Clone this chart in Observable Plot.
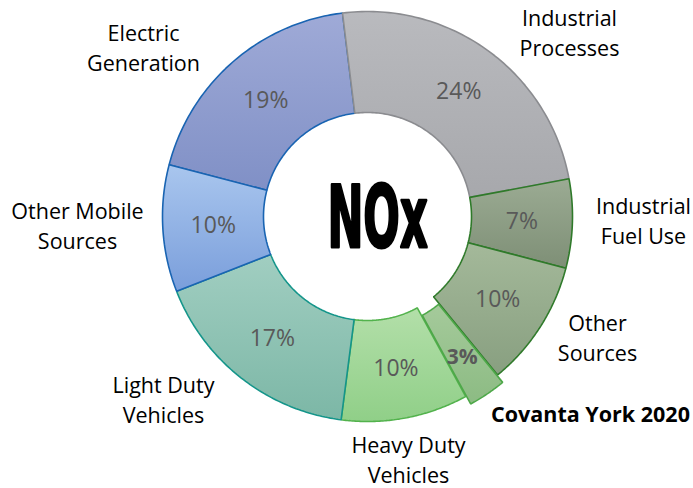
<!DOCTYPE html>
<html><head><meta charset="utf-8">
<script src="https://cdn.jsdelivr.net/npm/d3@7"></script>
<script src="https://cdn.jsdelivr.net/npm/@observablehq/plot@0.6"></script>
<style>body{margin:0;background:#fff;}</style>
</head><body><div id="chart"></div>
<script>
// ---- data (clockwise from 12 o'clock) ----
const categories = ["Industrial Processes","Industrial Fuel Use","Other Sources","Covanta York 2020","Heavy Duty Vehicles","Light Duty Vehicles","Other Mobile Sources","Electric Generation"];
const values = [24, 7, 10, 3, 10, 17, 10, 19];
const pctLabels = ["24%","7%","10%","3%","10%","17%","10%","19%"];
const nameLabels = ["Industrial\nProcesses","Industrial\nFuel Use","Other\nSources","Covanta York 2020","Heavy Duty\nVehicles","Light Duty\nVehicles","Other Mobile\nSources","Electric\nGeneration"];
const highlighted = "Covanta York 2020";
const centerText = "NOx";

// ---- styles / layout ----
const fillTop    = ["#b9babe","#9bab93","#a4b99a","#a5ca9b","#b3dfa9","#a1cec1","#a9c6ee","#9faad7"];
const fillBottom = ["#a7a8ac","#7e8f76","#889f80","#8cbb83","#90cf88","#7cb7a6","#7a9edb","#8090c6"];
const strokes    = ["#8b8c90","#2f7a2a","#2f7a2a","#4ea849","#52b24c","#14958a","#1964b2","#1964b2"];
const drawOrder  = [7,0,1,2,4,5,6,3];
// label block centres, px offset from donut centre
const labelPos = [[202,-185],[276,3],[230,120],[223,199],[41,242],[-204,182],[-290,8],[-224,-170]];
const W = 693, H = 488, CX = 367, CY = 216, R_OUT = 205, R_IN = 104, START = -7, EXPLODE = 9;

// ---- geometry from data ----
const total = d3.sum(values);
let acc = START;
const slices = categories.map((c, i) => {
  const a0 = acc, a1 = acc + values[i] / total * 360; acc = a1;
  const mid = (a0 + a1) / 2 * Math.PI / 180;
  const e = c === highlighted ? EXPLODE : 0;
  const ox = e * Math.sin(mid), oy = -e * Math.cos(mid);
  const pts = [];
  const N = 80;
  for (let k = 0; k <= N; k++) { const a = (a0 + (a1 - a0) * k / N) * Math.PI / 180; pts.push({x: ox + R_OUT * Math.sin(a), y: oy - R_OUT * Math.cos(a)}); }
  for (let k = N; k >= 0; k--) { const a = (a0 + (a1 - a0) * k / N) * Math.PI / 180; pts.push({x: ox + R_IN * Math.sin(a), y: oy - R_IN * Math.cos(a)}); }
  const rm = (R_IN + R_OUT) / 2 + (e ? 6 : 0);
  return {category: c, i, pts, lx: ox + rm * Math.sin(mid), ly: oy - rm * Math.cos(mid), pct: pctLabels[i], bold: c === highlighted};
});

const defs = () => {
  const g = d3.create("svg:defs");
  categories.forEach((c, i) => {
    const lg = g.append("linearGradient").attr("id", "grad" + i).attr("x1", 0).attr("y1", 0).attr("x2", 0).attr("y2", 1);
    lg.append("stop").attr("offset", "0%").attr("stop-color", fillTop[i]);
    lg.append("stop").attr("offset", "100%").attr("stop-color", fillBottom[i]);
  });
  return g.node();
};

const sliceMarks = drawOrder.map(i => Plot.line(slices[i].pts, {
  x: "x", y: "y", curve: "linear-closed",
  fill: `url(#grad${i})`, stroke: strokes[i], strokeWidth: 1.6, strokeLinejoin: "miter"
}));

const names = categories.map((c, i) => ({text: nameLabels[i], x: labelPos[i][0], y: labelPos[i][1], bold: c === highlighted}));

const chart = Plot.plot({
  width: W, height: H, margin: 0,
  x: {domain: [-CX, W - CX], range: [0, W], axis: null},
  y: {domain: [-CY, H - CY], range: [0, H], axis: null},
  style: {background: "#fff"},
  marks: [
    defs,
    ...sliceMarks,
    Plot.text(slices.filter(d => !d.bold), {x: "lx", y: "ly", text: "pct", fill: "#595959", fontSize: 23, fontFamily: "Open Sans"}),
    Plot.text(slices.filter(d => d.bold), {x: "lx", y: "ly", text: "pct", fill: "#595959", fontSize: 21, fontWeight: "bold", fontFamily: "Open Sans"}),
    Plot.text(names.filter(d => !d.bold), {x: "x", y: "y", text: "text", fill: "#000", fontSize: 21.5, lineHeight: 1.38, fontFamily: "Open Sans"}),
    Plot.text(names.filter(d => d.bold), {x: "x", y: "y", text: "text", fill: "#000", fontSize: 21.5, fontWeight: "bold", fontFamily: "Open Sans"}),
    Plot.text([centerText], {x: () => 10, y: () => 3, text: d => d, fill: "#000", stroke: "#000", strokeWidth: 3, fontSize: 86, fontWeight: "bold", fontFamily: "DejaVu Sans"})
  ]
});
document.getElementById("chart").appendChild(chart);

// condense the big centre label horizontally
const t = Array.from(chart.querySelectorAll("text")).find(n => n.textContent === centerText);
if (t) {
  const X = +(t.getAttribute("x") || 0);
  const prev = t.getAttribute("transform") || "";
  t.setAttribute("transform", `${prev} translate(${X} 0) scale(0.5 1) translate(${-X} 0)`);
}
</script>
</body></html>
